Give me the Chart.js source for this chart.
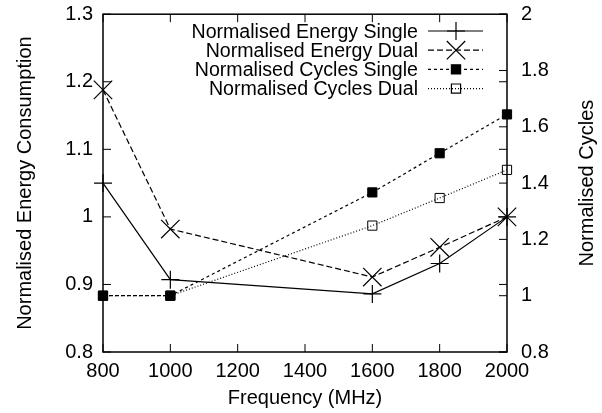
<!DOCTYPE html>
<html>
<head>
<meta charset="utf-8">
<script src="https://cdn.jsdelivr.net/npm/chart.js"></script>
<style>
  html, body { margin: 0; padding: 0; background: #fff; }
</style>
</head>
<body>
<canvas id="chart" width="602" height="413"></canvas>
<script>
// data
const freqs = [800, 1000, 1600, 1800, 2000];
const energySingle = [1.05, 0.907, 0.886, 0.931, 1.0];
const energyDual = [1.188, 0.982, 0.911, 0.955, 1.0];
const cyclesSingle = [1.0, 1.0, 1.367, 1.506, 1.644];
const cyclesDual = [1.0, 1.0, 1.249, 1.347, 1.447];

const seriesNames = [
  'Normalised Energy Single',
  'Normalised Energy Dual',
  'Normalised Cycles Single',
  'Normalised Cycles Dual'
];

const FONT = '"Liberation Sans", Arial, Helvetica, sans-serif';
const FSIZE = 20;
Chart.defaults.font.family = FONT;
Chart.defaults.font.size = FSIZE;
Chart.defaults.color = '#000';

const pts = (ys) => freqs.map((f, i) => ({ x: f, y: ys[i] }));
const fmt = (v) => String(+v.toFixed(2));

// frame + inward ticks, gnuplot style
const framePlugin = {
  id: 'frame',
  beforeDatasetsDraw(chart) {
    const { ctx, chartArea: a, scales } = chart;
    const len = 8;
    ctx.save();
    ctx.strokeStyle = '#000';
    ctx.lineWidth = 1;
    ctx.beginPath();
    scales.x.ticks.forEach(t => {
      const px = scales.x.getPixelForValue(t.value);
      ctx.moveTo(px, a.bottom); ctx.lineTo(px, a.bottom - len);
      ctx.moveTo(px, a.top); ctx.lineTo(px, a.top + len);
    });
    scales.y.ticks.forEach(t => {
      const py = scales.y.getPixelForValue(t.value);
      ctx.moveTo(a.left, py); ctx.lineTo(a.left + len, py);
      ctx.moveTo(a.right, py); ctx.lineTo(a.right - len, py);
    });
    scales.y2.ticks.forEach(t => {
      const py = scales.y2.getPixelForValue(t.value);
      ctx.moveTo(a.right, py); ctx.lineTo(a.right - len, py);
    });
    ctx.stroke();
    ctx.lineWidth = 1.5;
    ctx.strokeRect(a.left, a.top, a.right - a.left, a.bottom - a.top);
    ctx.restore();
  }
};

// right axis title reads bottom-to-top like the left one
const rightTitlePlugin = {
  id: 'rightTitle',
  afterDraw(chart) {
    const { ctx, chartArea: a } = chart;
    ctx.save();
    ctx.translate(593, (a.top + a.bottom) / 2);
    ctx.rotate(-Math.PI / 2);
    ctx.font = FSIZE + 'px ' + FONT;
    ctx.fillStyle = '#000';
    ctx.textAlign = 'center';
    ctx.textBaseline = 'alphabetic';
    ctx.fillText('Normalised Cycles', 0, 0);
    ctx.restore();
  }
};

// legend inside the plot: right-aligned text, line sample with marker
const keyPlugin = {
  id: 'key',
  afterDraw(chart) {
    const { ctx } = chart;
    ctx.save();
    ctx.font = '19.6px ' + FONT;
    ctx.fillStyle = '#000';
    ctx.textAlign = 'right';
    ctx.textBaseline = 'alphabetic';
    chart.data.datasets.forEach((ds, i) => {
      const base = 37.5 + i * 19.2;
      const ly = base - 6.5;
      ctx.fillText(ds.label, 418, base);
      ctx.save();
      ctx.strokeStyle = '#000';
      ctx.lineWidth = ds.borderWidth;
      ctx.setLineDash(ds.borderDash || []);
      ctx.beginPath();
      ctx.moveTo(428, ly);
      ctx.lineTo(483, ly);
      ctx.stroke();
      ctx.restore();
      ctx.save();
      ctx.strokeStyle = '#000';
      ctx.fillStyle = ds.pointBackgroundColor;
      Chart.helpers.drawPoint(ctx, {
        pointStyle: ds.pointStyle,
        radius: ds.pointRadius,
        rotation: 0,
        borderWidth: ds.pointBorderWidth
      }, 456, ly);
      ctx.restore();
    });
    ctx.restore();
  }
};

new Chart(document.getElementById('chart'), {
  type: 'line',
  data: {
    datasets: [
      {
        label: seriesNames[0],
        data: pts(energySingle),
        yAxisID: 'y',
        borderColor: '#000',
        borderWidth: 1.2,
        pointStyle: 'cross',
        pointRadius: 9,
        pointBorderWidth: 1.2,
        pointBorderColor: '#000',
        pointBackgroundColor: '#000',
        clip: false
      },
      {
        label: seriesNames[1],
        data: pts(energyDual),
        yAxisID: 'y',
        borderColor: '#000',
        borderWidth: 1.2,
        borderDash: [6, 3],
        pointStyle: 'crossRot',
        pointRadius: 13,
        pointBorderWidth: 1.2,
        pointBorderColor: '#000',
        pointBackgroundColor: '#000',
        clip: false
      },
      {
        label: seriesNames[2],
        data: pts(cyclesSingle),
        yAxisID: 'y2',
        borderColor: '#000',
        borderWidth: 1.2,
        borderDash: [3, 3],
        pointStyle: 'rect',
        pointRadius: 6.5,
        pointBorderWidth: 1,
        pointBorderColor: '#000',
        pointBackgroundColor: '#000',
        clip: false
      },
      {
        label: seriesNames[3],
        data: pts(cyclesDual),
        yAxisID: 'y2',
        borderColor: '#000',
        borderWidth: 1.2,
        borderDash: [1, 2],
        pointStyle: 'rect',
        pointRadius: 6.5,
        pointBorderWidth: 1,
        pointBorderColor: '#000',
        pointBackgroundColor: 'rgba(0,0,0,0)',
        clip: false
      }
    ]
  },
  options: {
    responsive: false,
    animation: false,
    layout: { padding: { top: 12.5, left: 0, right: 0, bottom: 0 } },
    plugins: {
      legend: { display: false },
      tooltip: { enabled: false }
    },
    scales: {
      x: {
        type: 'linear',
        min: 800,
        max: 2000,
        ticks: { stepSize: 200, padding: 7, maxRotation: 0, callback: (v) => String(v) },
        grid: { display: false, drawTicks: false },
        border: { display: false },
        title: { display: true, text: 'Frequency (MHz)', padding: { top: 0, bottom: 3 } },
        afterFit(s) { s.height = 61; s.paddingLeft = 0; s.paddingRight = 0; }
      },
      y: {
        position: 'left',
        min: 0.8,
        max: 1.3,
        ticks: { stepSize: 0.1, padding: 10, callback: fmt },
        grid: { display: false, drawTicks: false },
        border: { display: false },
        title: { display: true, text: 'Normalised Energy Consumption', padding: { top: 13, bottom: 0 } },
        afterFit(s) { s.width = 103; s.paddingTop = 0; s.paddingBottom = 0; }
      },
      y2: {
        position: 'right',
        min: 0.8,
        max: 2,
        ticks: { stepSize: 0.2, padding: 14, callback: fmt },
        grid: { display: false, drawTicks: false },
        border: { display: false },
        afterFit(s) { s.width = 95; s.paddingTop = 0; s.paddingBottom = 0; }
      }
    }
  },
  plugins: [framePlugin, rightTitlePlugin, keyPlugin]
});
</script>
</body>
</html>
